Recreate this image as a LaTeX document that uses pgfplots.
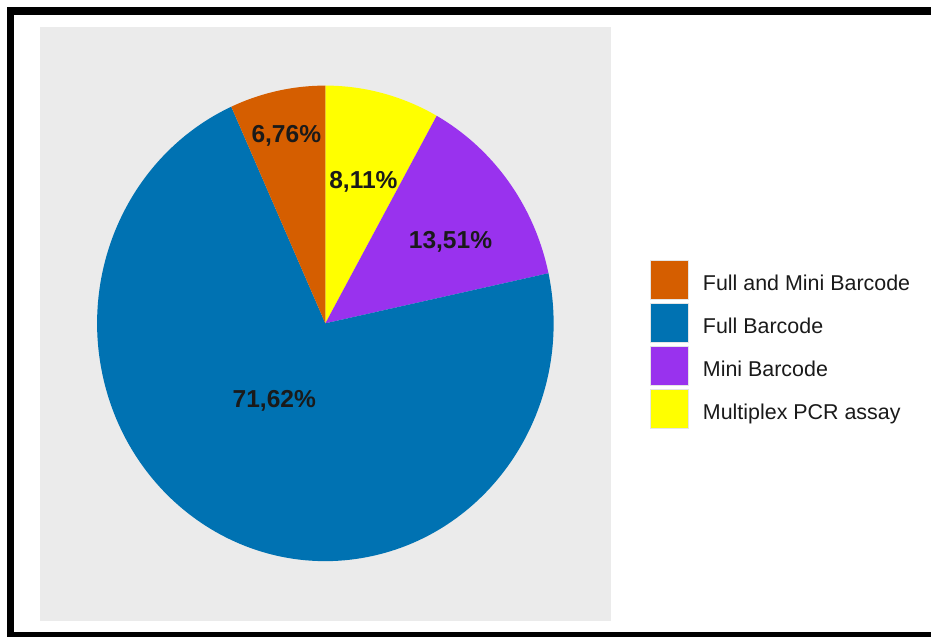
\documentclass[border=0pt]{standalone}
\usepackage{fontspec}
\setmainfont{Liberation Sans}
\usepackage{pgfplots}
\pgfplotsset{compat=1.18}
\definecolor{cFM}{HTML}{D55E00}
\definecolor{cFB}{HTML}{0072B2}
\definecolor{cMB}{HTML}{9932EE}
\definecolor{cMP}{HTML}{FFFF00}
\definecolor{panel}{HTML}{EBEBEB}
\definecolor{txt}{HTML}{1A1A1A}
% percentages (clockwise from 12 o'clock)
\def\pMP{8.11}
\def\pMB{13.51}
\def\pFB{71.62}
\def\pFM{6.76}
\pgfmathsetmacro\aA{90}
\pgfmathsetmacro\aB{\aA-3.6*\pMP}
\pgfmathsetmacro\aC{\aB-3.6*\pMB}
\pgfmathsetmacro\aD{\aC-3.6*\pFB}
\pgfmathsetmacro\aE{\aD-3.6*\pFM}
\def\cx{325}
\def\cy{313}
\def\rx{228}
\def\ry{237.5}
\begin{document}
\begin{tikzpicture}
\begin{axis}[
  at={(0,0)}, anchor=origin,
  x=1bp, y=1bp, xmin=0, xmax=931, ymin=0, ymax=636,
  hide axis, clip=false, scale only axis,
]
\fill[white] (axis cs:0,0) rectangle (axis cs:931,636);
% panel
\fill[panel] (axis cs:40,16) rectangle (axis cs:610,609);
% slices
\fill[cMP] (axis cs:\cx,\cy) -- (axis cs:{\cx+\rx*cos(\aA)},{\cy+\ry*sin(\aA)}) arc[start angle=\aA, end angle=\aB, x radius=\rx bp, y radius=\ry bp] -- cycle;
\fill[cMB] (axis cs:\cx,\cy) -- (axis cs:{\cx+\rx*cos(\aB)},{\cy+\ry*sin(\aB)}) arc[start angle=\aB, end angle=\aC, x radius=\rx bp, y radius=\ry bp] -- cycle;
\fill[cFB] (axis cs:\cx,\cy) -- (axis cs:{\cx+\rx*cos(\aC)},{\cy+\ry*sin(\aC)}) arc[start angle=\aC, end angle=\aD, x radius=\rx bp, y radius=\ry bp] -- cycle;
\fill[cFM] (axis cs:\cx,\cy) -- (axis cs:{\cx+\rx*cos(\aD)},{\cy+\ry*sin(\aD)}) arc[start angle=\aD, end angle=\aE, x radius=\rx bp, y radius=\ry bp] -- cycle;
% slice labels
\begin{scope}[every node/.style={anchor=base, inner sep=0pt, text=txt, font=\bfseries\fontsize{24.5bp}{29bp}\selectfont}]
\node at (axis cs:286,494) {6,76\%};
\node at (axis cs:363,448) {8,11\%};
\node at (axis cs:450,388) {13,51\%};
\node at (axis cs:274,229) {71,62\%};
\end{scope}
% legend
\begin{scope}[every node/.style={anchor=base west, inner sep=0pt, text=txt, font=\fontsize{21.4bp}{26bp}\selectfont}]
\filldraw[cFM, draw=white!90!black, line width=0.6bp] (axis cs:650,337) rectangle (axis cs:688,376);
\filldraw[cFB, draw=white!90!black, line width=0.6bp] (axis cs:650,294) rectangle (axis cs:688,333);
\filldraw[cMB, draw=white!90!black, line width=0.6bp] (axis cs:650,251) rectangle (axis cs:688,290);
\filldraw[cMP, draw=white!90!black, line width=0.6bp] (axis cs:650,208) rectangle (axis cs:688,247);
\node at (axis cs:702,346) {Full and Mini Barcode};
\node at (axis cs:702,302.5) {Full Barcode};
\node at (axis cs:702,260) {Mini Barcode};
\node at (axis cs:702,217) {Multiplex PCR assay};
\end{scope}
% frame
\fill[black] (axis cs:7,621.5) rectangle (axis cs:931,629.5);
\fill[black] (axis cs:7,0) rectangle (axis cs:14,629.5);
\fill[black] (axis cs:7,0) rectangle (axis cs:931,5);
\end{axis}
\pgfresetboundingbox
\useasboundingbox (0,0) rectangle (930bp,636bp);
\end{tikzpicture}
\end{document}
